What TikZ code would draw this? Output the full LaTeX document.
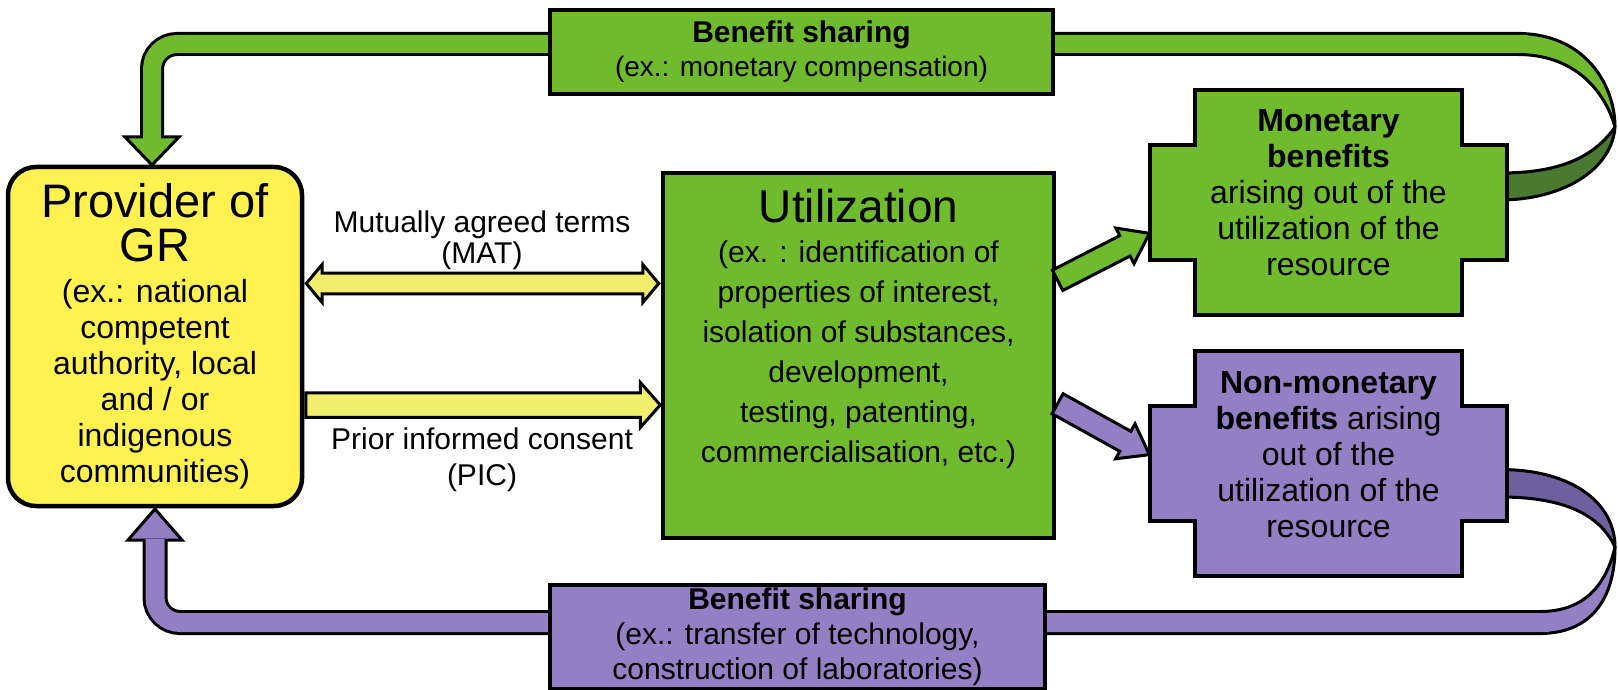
\documentclass[tikz,border=0pt]{standalone}
\usepackage{fontspec}
\setmainfont{Liberation Sans}
\usetikzlibrary{calc,shapes.arrows}
\pgfdeclarelayer{back}
\pgfsetlayers{back,main}
\definecolor{gr}{RGB}{112,186,46}
\definecolor{dgr}{RGB}{74,122,48}
\definecolor{pu}{RGB}{146,127,196}
\definecolor{dpu}{RGB}{110,96,158}
\definecolor{ye}{RGB}{255,242,80}
\definecolor{pye}{RGB}{243,237,110}
\begin{document}
\begin{tikzpicture}[x=1pt,y=-1pt,
  outl/.style={draw=black, line width=3pt},
  bord/.style={draw=black, line width=4.5pt},
  txt/.style={align=center, inner sep=0pt, font=\fontsize{32}{36}\selectfont},
  arr/.style={outl, inner sep=0pt, text height=0pt, text depth=0pt, line join=miter},
  diag/.style={single arrow, arr, inner ysep=8pt, minimum width=40pt, single arrow tip angle=72, anchor=tail},
  cross/.style={bord, line join=miter},
]
\useasboundingbox (0,0) rectangle (1618,690);

% ---------- boxes ----------
\node[bord, fill=ye, rounded corners=28pt, minimum width=294pt, minimum height=339pt, txt] (prov) at (155,336.5)
 {{\fontsize{47}{47}\selectfont Provider of}\\[8pt]{\fontsize{47}{47}\selectfont GR}\\[5pt](ex.: national\\competent\\authority, local\\and / or\\indigenous\\communities)};

\node[bord, fill=gr, minimum width=391pt, minimum height=365pt] (ut) at (858.5,355.5) {};
\node[txt, font=\fontsize{30}{40}\selectfont] (utt) at (858.5,329)
 {{\fontsize{46}{46}\selectfont Utilization}\\[0.5pt](ex. : identification of\\properties of interest,\\isolation of substances,\\development,\\testing, patenting,\\commercialisation, etc.)};

\node[bord, fill=gr, minimum width=503pt, minimum height=84pt, txt, font=\fontsize{30}{34}\selectfont] (tb) at (801.5,52)
 {\textbf{Benefit sharing}\\{\fontsize{28}{34}\selectfont (ex.: monetary compensation)}};

\node[bord, fill=pu, minimum width=495pt, minimum height=104pt, txt, font=\fontsize{30}{35}\selectfont] (bb) at (797.5,637)
 {\textbf{Benefit sharing}\\(ex.: transfer of technology,\\construction of laboratories)};

\coordinate (monc) at (1328.5,202.5);
\coordinate (nmonc) at (1328.5,463.5);
\node[txt] (mon) at (1328.5,193) {\textbf{Monetary}\\\textbf{benefits}\\arising out of the\\utilization of the\\resource};
\node[txt] (nmon) at (1328.5,454.5) {\textbf{Non-monetary}\\\textbf{benefits} arising\\out of the\\utilization of the\\resource};

% ---------- labels ----------
\node[txt, font=\fontsize{30}{31}\selectfont] (matl) at (482,240.5) {Mutually agreed terms\\(MAT)};
\node[txt, font=\fontsize{30}{36}\selectfont] (picl) at (482,460) {Prior informed consent\\(PIC)};

% ---------- arrows ----------
\coordinate (m0) at (0,283.5);
\coordinate (p0) at (0,405);
\coordinate (g0) at (0,281);
\coordinate (q0) at (0,403);
\coordinate (gt) at ($(monc)+(-178.5,30.5)$);
\coordinate (pt) at ($(nmonc)+(-178.5,-8.5)$);

\path let \p1=($(ut.west |- m0)-(prov.east |- m0)$) in
  node[double arrow, arr, fill=pye, inner ysep=7pt, minimum width=38pt, double arrow tip angle=100, minimum height=\x1-4pt]
  (mat) at ($(prov.east |- m0)!0.5!(ut.west |- m0)$) {};
\path let \p1=($(ut.west |- p0)-(prov.east |- p0)$) in
  node[single arrow, arr, fill=pye, inner ysep=7pt, minimum width=45pt, single arrow tip angle=97, anchor=tail, minimum height=\x1-2pt]
  (pic) at (prov.east |- p0) {};
\path let \p1=($(gt)-(ut.east |- g0)$), \n1={veclen(\x1,\y1)}, \n2={atan2(\y1,\x1)} in
  node[diag, fill=gr, minimum height=\n1-2, rotate=\n2] (ga) at (ut.east |- g0) {};
\path let \p1=($(pt)-(ut.east |- q0)$), \n1={veclen(\x1,\y1)}, \n2={atan2(\y1,\x1)} in
  node[diag, fill=pu, minimum height=\n1-2, rotate=\n2] (pa) at (ut.east |- q0) {};

% ---------- background: ribbons, bands, cross boxes ----------
\begin{pgfonlayer}{back}
\fill[white] (0,0) rectangle (1618,690);
% green ribbon
\fill[gr] (1518,33.5) .. controls (1585,33.5) and (1615,85) .. (1615,127) .. controls (1604,88) and (1572,54.5) .. (1518,54.5) -- cycle;
\fill[dgr] (1615,127) .. controls (1592,160) and (1555,173) .. (1500,173) -- (1500,200) .. controls (1562,200) and (1612,170) .. (1615,127) -- cycle;
\draw[outl] (1518,33.5) .. controls (1585,33.5) and (1615,85) .. (1615,127) .. controls (1612,170) and (1562,200) .. (1500,200);
\draw[outl] (1518,54.5) .. controls (1572,54.5) and (1604,88) .. (1615,127);
\draw[outl] (1615,127) .. controls (1592,160) and (1555,173) .. (1500,173);
% green band
\draw[line width=24pt, rounded corners=25pt] (1521,44) -- (152,44) -- (152,139);
\draw[outl, fill=gr, line join=miter] (125,137) -- (179,137) -- (152,165) -- cycle;
\draw[gr, line width=18pt, rounded corners=25pt] (1527,44) -- (152,44) -- (152,140);
% purple ribbon
\fill[dpu] (1500,469.5) .. controls (1575,469.5) and (1615,505) .. (1615,547) .. controls (1600,515) and (1565,497) .. (1500,497) -- cycle;
\fill[pu] (1615,547) .. controls (1615,600) and (1590,633.5) .. (1540,633.5) -- (1540,611.5) .. controls (1580,611.5) and (1605,590) .. (1615,547) -- cycle;
\draw[outl] (1500,469.5) .. controls (1575,469.5) and (1615,505) .. (1615,547) .. controls (1615,600) and (1590,633.5) .. (1540,633.5);
\draw[outl] (1500,497) .. controls (1565,497) and (1600,515) .. (1615,547);
\draw[outl] (1540,611.5) .. controls (1580,611.5) and (1605,590) .. (1615,547);
% purple band
\draw[line width=25pt, rounded corners=25pt] (1543,622.5) -- (155,622.5) -- (155,541);
\draw[outl, fill=pu, line join=miter] (128,540) -- (182,540) -- (155,509) -- cycle;
\draw[pu, line width=19pt, rounded corners=25pt] (1549,622.5) -- (155,622.5) -- (155,539);
% cross-shaped boxes
\draw[cross, fill=gr] ($(monc)+(-133.5,-112.5)$) -- ++(267,0) -- ++(0,55) -- ++(45,0) -- ++(0,115) -- ++(-45,0) -- ++(0,55) -- ++(-267,0) -- ++(0,-55) -- ++(-45,0) -- ++(0,-115) -- ++(45,0) -- cycle;
\draw[cross, fill=pu] ($(nmonc)+(-133.5,-112.5)$) -- ++(267,0) -- ++(0,55) -- ++(45,0) -- ++(0,115) -- ++(-45,0) -- ++(0,55) -- ++(-267,0) -- ++(0,-55) -- ++(-45,0) -- ++(0,-115) -- ++(45,0) -- cycle;
\end{pgfonlayer}
\end{tikzpicture}
\end{document}
